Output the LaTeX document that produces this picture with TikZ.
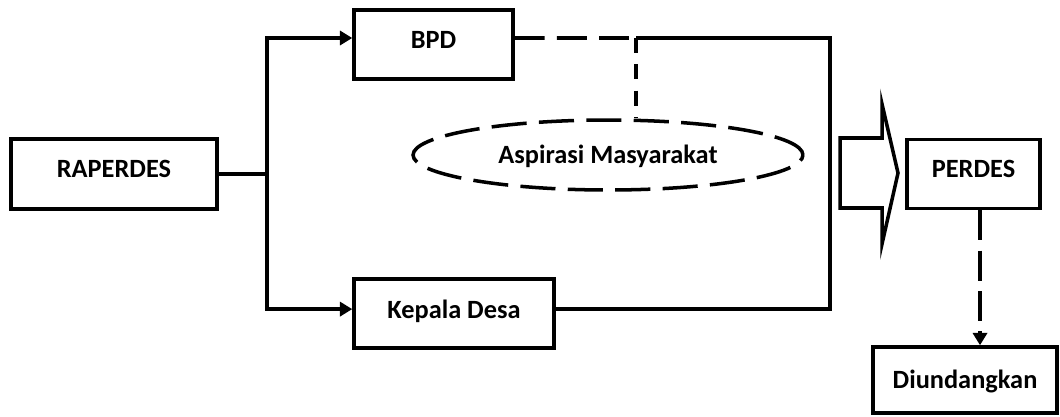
\documentclass[tikz,border=0pt]{standalone}
\usepackage{fontspec}
\setmainfont{Carlito}
\usetikzlibrary{arrows.meta,shapes}

\begin{document}
\begin{tikzpicture}[x=0.02cm,y=-0.02cm,line width=2pt,
    longdash/.style={dash pattern=on 17pt off 7pt},
    shortdash/.style={dash pattern=on 8.5pt off 6.5pt}]
      \useasboundingbox (0,0) rectangle (1060,416);
      \begin{scope}[every node/.style={rectangle,draw,inner sep=0pt,minimum height=1.38cm,text height=10pt,text depth=6pt,font=\bfseries\fontsize{15}{18}\selectfont}]
        \node[minimum width=4.12cm,minimum height=1.4cm] (rap) at (114,174) {RAPERDES};
        \node[minimum width=3.18cm] (bpd) at (433.5,44.5) {BPD};
        \node[minimum width=4cm,text depth=4.5pt] (kd) at (454,313.5) {Kepala Desa};
        \node[ellipse,text depth=0pt,dash pattern=on 20pt off 7pt,minimum width=7.8cm,minimum height=1.4cm] (asp) at (608,155) {Aspirasi Masyarakat};
        \node[minimum width=2.66cm] (perdes) at (973.5,174) {PERDES};
        \node[minimum width=3.68cm,minimum height=1.32cm,text depth=0pt] (diu) at (965,380) {Diundangkan};
      \end{scope}
      \coordinate (fork) at (267,174);
      \coordinate (join) at (636,38);
      \coordinate (corner) at (830,38);
      \coordinate (drop) at ([xshift=3.7pt]perdes.south);
      \begin{scope}[>={Triangle[length=7pt,width=8pt]}]
        \draw (rap.east) -- (fork);
        \draw[->] (fork) |- ([yshift=3.7pt]bpd.west);
        \draw[->] (fork) |- ([yshift=2.5pt]kd.west);
        \draw[longdash] ([yshift=3.7pt]bpd.east) -- (join);
        \draw[shortdash] (join) -- (join |- asp.north);
        \draw (join) -- (corner) |- ([yshift=2.5pt]kd.east);
        \draw[->,dash pattern=on 17pt off 6pt] (drop) -- (drop |- diu.north);
      \end{scope}
      % big arrow towards PERDES
      \draw (840,138) -- (882,138) -- (882,104) -- (898,173) -- (882,244) -- (882,208) -- (840,208) -- cycle;
    \end{tikzpicture}
\end{document}
